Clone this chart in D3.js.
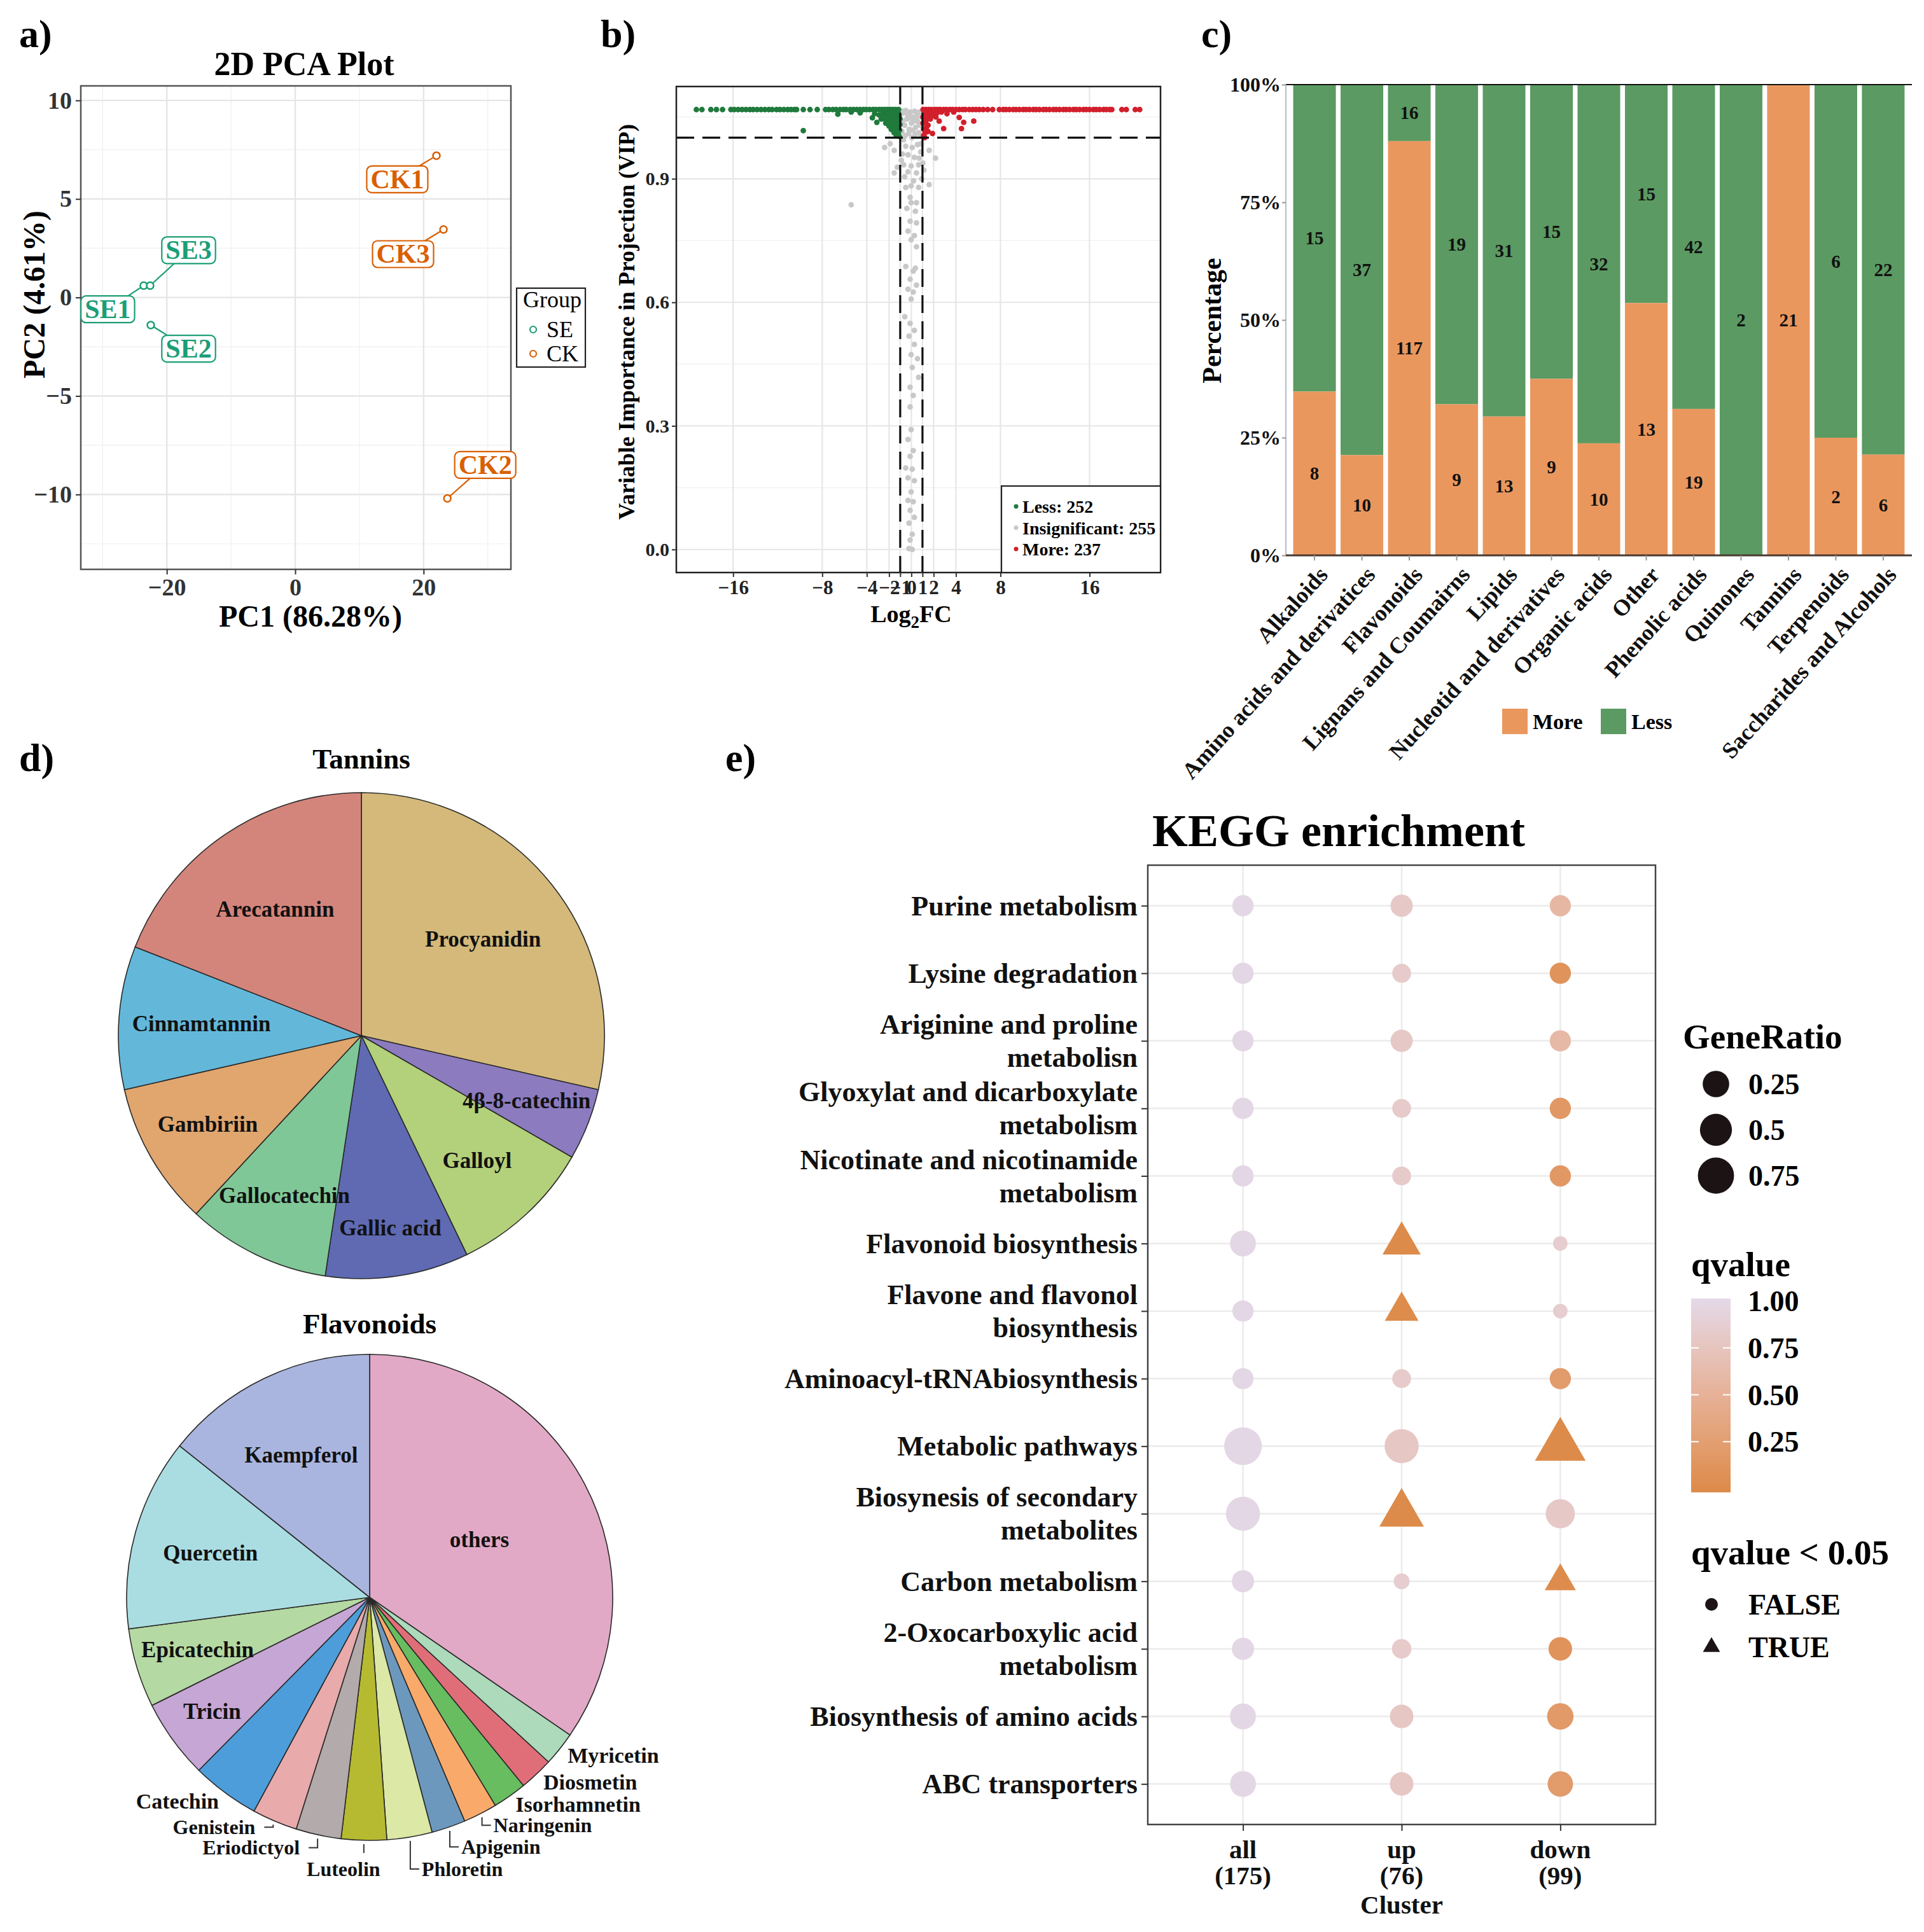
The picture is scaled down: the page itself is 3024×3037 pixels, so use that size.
<!DOCTYPE html>
<html>
<head>
<meta charset="utf-8">
<script src="https://cdn.jsdelivr.net/npm/d3@7"></script>
<style>
  body { margin: 0; background: #fff; }
</style>
</head>
<body>
<script>
// ---------- a) PCA data ----------
var pcaNames = ["SE1", "SE2", "SE3", "CK1", "CK2", "CK3"];
var pcaGroups = ["SE", "SE", "SE", "CK", "CK", "CK"];
var pc1Values = [-23.6, -22.5, -22.6, 22.0, 23.7, 23.1];
var pc2Values = [0.6, -1.4, 0.6, 7.2, -10.2, 3.45];
var groupNames = ["SE", "CK"];

// ---------- b) volcano data (log2FC, VIP) ----------
var lessTopX = [-19.3, -18.8, -18.0, -17.5, -16.95, -16.2, -15.9, -15.55, -15.2, -14.85, -14.5, -14.2, -13.85,
  -13.5, -13.15, -12.8, -12.5, -12.1, -11.8, -11.45, -11.1, -10.8, -10.5, -10.3, -9.7, -9.1, -8.45,
  -7.7, -7.4, -7.05, -6.75, -6.4, -6.1, -5.85, -5.5, -5.2, -4.9, -4.6, -4.3, -4.05, -3.75, -3.45,
  -3.2, -2.9, -2.65, -2.4, -2.15, -1.9, -1.65, -1.4, -1.15];
var lessTopVip = 1.068;
var lessLowPts = [[-9.7, 1.017], [-6.6, 1.057], [-5.4, 1.062], [-4.6, 1.06], [-3.5, 1.048], [-3.1, 1.037],
  [-3.3, 1.058], [-2.9, 1.055], [-2.7, 1.045], [-2.55, 1.06], [-2.45, 1.05], [-2.3, 1.035], [-2.2, 1.058],
  [-2.1, 1.042], [-2.0, 1.028], [-1.95, 1.05], [-1.85, 1.062], [-1.8, 1.02], [-1.75, 1.038], [-1.65, 1.048],
  [-1.6, 1.058], [-1.55, 1.012], [-1.5, 1.03], [-1.45, 1.042], [-1.4, 1.055], [-1.35, 1.005], [-1.3, 1.022],
  [-1.28, 1.036], [-1.25, 1.048], [-1.2, 1.062], [-1.18, 1.01], [-1.15, 1.028], [-1.12, 1.042], [-1.1, 1.054],
  [-1.08, 1.003], [-1.05, 1.018], [-1.03, 1.032], [-1.02, 1.046], [-1.6, 1.025], [-1.9, 1.035], [-2.35, 1.045],
  [-2.6, 1.052]];
var moreTopX = [1.05, 1.3, 1.55, 1.8, 2.1, 2.35, 2.6, 2.9, 3.15, 3.45, 3.7, 4.0, 4.3, 4.6, 4.85, 5.2, 5.5,
  5.8, 6.1, 6.45, 6.85, 7.3, 7.9, 8.25, 8.5, 8.8, 9.15, 9.4, 9.7, 10.05, 10.3, 10.6, 10.95, 11.2, 11.5,
  11.85, 12.1, 12.4, 12.75, 13.0, 13.3, 13.65, 13.9, 14.2, 14.55, 14.8, 15.1, 15.45, 15.7, 16.0, 16.35,
  16.6, 16.9, 17.25, 17.5, 17.8, 18.0, 18.9, 19.3, 20.1, 20.5];
var moreTopVip = 1.068;
var moreLowPts = [[2.5, 1.04], [2.9, 1.022], [4.3, 1.049], [4.7, 1.037], [4.5, 1.022], [5.6, 1.04], [1.9, 1.01],
  [1.5, 1.03], [1.2, 1.0], [1.1, 1.02], [1.3, 1.04], [1.15, 1.055], [1.4, 1.05], [1.6, 1.06], [1.25, 1.012],
  [1.05, 1.035], [1.7, 1.045], [2.0, 1.058], [2.3, 1.06], [2.7, 1.062], [3.2, 1.058], [1.35, 1.025],
  [1.1, 1.005], [1.5, 1.015], [3.8, 1.062], [1.8, 1.052], [1.05, 1.05], [1.2, 1.062], [2.2, 1.05], [1.45, 1.062]];
var insigPts = [[-0.9, 1.065], [-0.7, 1.06], [-0.5, 1.066], [-0.3, 1.055], [-0.1, 1.062], [0.1, 1.05], [0.3, 1.064],
  [0.5, 1.058], [0.7, 1.062], [0.9, 1.05], [-0.8, 1.04], [-0.6, 1.03], [-0.4, 1.045], [-0.2, 1.02], [0.0, 1.035],
  [0.2, 1.04], [0.4, 1.025], [0.6, 1.038], [0.8, 1.03], [-0.85, 1.015], [-0.55, 1.005], [-0.25, 1.01], [0.05, 1.0],
  [0.35, 1.008], [0.65, 1.012], [0.85, 1.005], [-0.7, 0.995], [0.15, 1.018], [-0.15, 1.048], [0.45, 1.048],
  [-2.4, 0.976], [-1.54, 0.969], [1.6, 0.969], [2.17, 0.95], [-0.5, 0.979], [0.08, 0.976], [0.55, 0.983],
  [-0.3, 0.958], [0.27, 0.952], [0.84, 0.965], [-0.69, 0.934], [-0.02, 0.931], [0.65, 0.934], [1.03, 0.938],
  [-1.26, 0.928], [-1.54, 0.914], [-0.3, 0.917], [0.46, 0.914], [1.12, 0.921], [1.6, 0.886], [-0.5, 0.879],
  [-0.02, 0.883], [0.65, 0.879], [0.93, 0.9], [-0.11, 0.855], [-0.02, 0.842], [0.46, 0.842], [-0.4, 0.828],
  [0.36, 0.821], [-0.11, 0.797], [0.46, 0.793], [-0.3, 0.773], [0.27, 0.762], [-0.02, 0.752], [0.46, 0.735],
  [-0.5, 0.687], [0.17, 0.676], [0.36, 0.683], [-0.11, 0.656], [0.46, 0.642], [-0.3, 0.632], [0.17, 0.625],
  [-0.02, 0.608], [-0.59, 0.565], [-0.11, 0.549], [0.27, 0.532], [-0.21, 0.518], [0.27, 0.498], [-0.02, 0.473],
  [0.55, 0.463], [0.08, 0.442], [0.65, 0.418], [-0.11, 0.394], [0.17, 0.374], [-0.11, 0.346], [-0.02, 0.291],
  [-0.3, 0.267], [0.17, 0.24], [-0.11, 0.226], [-0.5, 0.198], [0.08, 0.195], [-0.3, 0.174], [0.27, 0.167],
  [-0.02, 0.14], [-0.3, 0.119], [0.17, 0.116], [-0.11, 0.095], [0.27, 0.078], [-0.21, 0.064], [0.08, 0.037],
  [-0.11, 0.023], [-0.21, 0.002], [0.08, 0.0], [-5.4, 0.837], [-1.9, 0.985], [-0.8, 0.96], [0.7, 0.95],
  [-0.6, 0.905], [0.2, 0.895], [-0.9, 0.945], [0.85, 0.985]];
var volcanoTicks = [-16, -8, -4, -2, -1, 0, 1, 2, 4, 8, 16];
var vipTicks = [0, 0.3, 0.6, 0.9];
var volcanoLegend = ["Less: 252", "Insignificant: 255", "More: 237"];

// ---------- c) class percentages ----------
var classNames = ["Alkaloids", "Amino acids and derivatices", "Flavonoids", "Lignans and Coumairns", "Lipids",
  "Nucleotid and derivatives", "Organic acids", "Other", "Phenolic acids", "Quinones", "Tannins",
  "Terpenoids", "Saccharides and Alcohols"];
var moreCounts = [8, 10, 117, 9, 13, 9, 10, 13, 19, 0, 21, 2, 6];
var lessCounts = [15, 37, 16, 19, 31, 15, 32, 15, 42, 2, 0, 6, 22];
var morePercent = [34.8, 21.3, 88.0, 32.1, 29.5, 37.5, 23.8, 53.6, 31.1, 0, 100, 25, 21.4];
var percentTicks = [0, 25, 50, 75, 100];

// ---------- d) pies ----------
var tanninNames = ["Procyanidin", "4β-8-catechin", "Galloyl", "Gallic acid", "Gallocatechin", "Gambiriin",
  "Cinnamtannin", "Arecatannin"];
var tanninCounts = [6, 1, 2, 2, 2, 2, 2, 4];
var flavonoidNames = ["others", "Myricetin", "Diosmetin", "Isorhamnetin", "Naringenin", "Apigenin", "Phloretin",
  "Luteolin", "Eriodictyol", "Genistein", "Catechin", "Tricin", "Epicatechin", "Quercetin", "Kaempferol"];
var flavonoidCounts = [46, 3, 3, 3, 3, 3, 4, 4, 4, 4, 6, 7, 7, 17, 19];

// ---------- e) KEGG ----------
var pathways = ["Purine metabolism", "Lysine degradation", "Ariginine and proline\nmetabolisn",
  "Glyoxylat and dicarboxylate\nmetabolism", "Nicotinate and nicotinamide\nmetabolism", "Flavonoid biosynthesis",
  "Flavone and flavonol\nbiosynthesis", "Aminoacyl-tRNAbiosynthesis", "Metabolic pathways",
  "Biosynesis of secondary\nmetabolites", "Carbon metabolism", "2-Oxocarboxylic acid\nmetabolism",
  "Biosynthesis of amino acids", "ABC transporters"];
var clusters = ["all", "up", "down"];
var clusterSizes = [175, 76, 99];
// columns: all, up, down
var geneRatio = [[0.09, 0.114, 0.09], [0.09, 0.043, 0.09], [0.09, 0.114, 0.09], [0.09, 0.043, 0.09],
  [0.09, 0.043, 0.09], [0.228, 0.324, 0.002], [0.09, 0.197, 0.002], [0.09, 0.043, 0.09], [0.85, 0.62, 0.85],
  [0.62, 0.56, 0.364], [0.114, 0.009, 0.138], [0.114, 0.054, 0.149], [0.228, 0.149, 0.247], [0.228, 0.149, 0.21]];
var qValue = [[0.98, 0.8, 0.58], [0.98, 0.82, 0.12], [0.98, 0.8, 0.6], [0.98, 0.82, 0.18], [0.98, 0.82, 0.18],
  [0.98, 0.01, 0.85], [0.98, 0.02, 0.85], [0.98, 0.82, 0.22], [0.98, 0.78, 0.01], [0.98, 0.01, 0.8],
  [0.98, 0.85, 0.03], [0.98, 0.82, 0.12], [0.98, 0.78, 0.2], [0.98, 0.78, 0.22]];
var ratioLegend = [0.25, 0.5, 0.75];
var qTicks = [1.0, 0.75, 0.5, 0.25];

// ================= drawing =================
var FONT = '"Liberation Serif", "Times New Roman", Times, serif';
var svg = d3.select("body").append("svg")
  .attr("width", 3024).attr("height", 3037)
  .style("font-family", FONT).style("font-weight", "bold");

function txt(g, x, y, s, size, anchor) {
  return g.append("text").attr("x", x).attr("y", y)
    .attr("font-size", size).attr("text-anchor", anchor || "start")
    .attr("fill", "#000").text(s);
}
function fixAxis(g, size, color) {
  g.attr("font-family", FONT).attr("font-size", size).attr("font-weight", "bold");
  g.select(".domain").remove();
  g.selectAll(".tick line").attr("stroke", "#333").attr("stroke-width", 2);
  g.selectAll(".tick text").attr("fill", color);
}

// panel letters
[["a)", 30, 74], ["b)", 944, 74], ["c)", 1888, 74], ["d)", 30, 1212], ["e)", 1140, 1212]].forEach(function (l) {
  txt(svg, l[1], l[2], l[0], 62);
});

// ---------- a) ----------
var colA = { SE: "#1b9e77", CK: "#d95f02" };
var ax = d3.scaleLinear().domain([-33.4, 33.6]).range([127, 803]);
var ay = d3.scaleLinear().domain([-13.8, 10.74]).range([895, 135]);
var pa = svg.append("g");
pa.selectAll(".gminx").data([-30, -10, 10, 30]).join("line")
  .attr("x1", d => ax(d)).attr("x2", d => ax(d)).attr("y1", ay.range()[0]).attr("y2", ay.range()[1])
  .attr("stroke", "#f0f0f0").attr("stroke-width", 1.2);
pa.selectAll(".gminy").data([-12.5, -7.5, -2.5, 2.5, 7.5]).join("line")
  .attr("y1", d => ay(d)).attr("y2", d => ay(d)).attr("x1", ax.range()[0]).attr("x2", ax.range()[1])
  .attr("stroke", "#f0f0f0").attr("stroke-width", 1.2);
pa.selectAll(".gx").data([-20, 0, 20]).join("line")
  .attr("x1", d => ax(d)).attr("x2", d => ax(d)).attr("y1", ay.range()[0]).attr("y2", ay.range()[1])
  .attr("stroke", "#e6e6e6").attr("stroke-width", 2.4);
pa.selectAll(".gy").data([-10, -5, 0, 5, 10]).join("line")
  .attr("y1", d => ay(d)).attr("y2", d => ay(d)).attr("x1", ax.range()[0]).attr("x2", ax.range()[1])
  .attr("stroke", "#e6e6e6").attr("stroke-width", 2.4);
pa.append("rect").attr("x", 127).attr("y", 135).attr("width", 676).attr("height", 760)
  .attr("fill", "none").attr("stroke", "#555").attr("stroke-width", 2.5);
fixAxis(pa.append("g").attr("transform", "translate(0,895)")
  .call(d3.axisBottom(ax).tickValues([-20, 0, 20]).tickSize(8).tickPadding(6)), 38, "#333");
fixAxis(pa.append("g").attr("transform", "translate(127,0)")
  .call(d3.axisLeft(ay).tickValues([-10, -5, 0, 5, 10]).tickSize(8).tickPadding(6)), 38, "#333");
txt(pa, 478, 118, "2D PCA Plot", 52, "middle");
txt(pa, 488, 985, "PC1 (86.28%)", 48, "middle");
pa.append("text").attr("transform", "translate(70,463) rotate(-90)").attr("text-anchor", "middle")
  .attr("font-size", 48).text("PC2 (4.61%)");

// labels nudged like ggrepel (data units)
var pcaNudge = { SE1: [-5.6, -1.2], SE2: [5.9, -1.2], SE3: [6.0, 1.8], CK1: [-6.1, -1.2], CK2: [5.9, 1.7], CK3: [-6.3, -1.25] };
pcaNames.forEach(function (nm, i) {
  var c = colA[pcaGroups[i]];
  var px = ax(pc1Values[i]), py = ay(pc2Values[i]);
  var lx = ax(pc1Values[i] + pcaNudge[nm][0]), ly = ay(pc2Values[i] + pcaNudge[nm][1]);
  var lg = pa.append("g");
  var t = lg.append("text").attr("x", lx).attr("y", ly + 14).attr("text-anchor", "middle")
    .attr("font-size", 42).attr("fill", c).text(nm);
  var w = t.node().getComputedTextLength() + 12, h = 42;
  lg.insert("rect", "text").attr("x", lx - w / 2).attr("y", ly - h / 2).attr("width", w).attr("height", h)
    .attr("rx", 8).attr("fill", "#fff").attr("stroke", c).attr("stroke-width", 2.2);
  var dx = px - lx, dy = py - ly;
  var s = Math.min((w / 2) / Math.abs(dx || 1e-6), (h / 2) / Math.abs(dy || 1e-6));
  pa.append("line").attr("x1", px).attr("y1", py).attr("x2", lx + dx * s).attr("y2", ly + dy * s)
    .attr("stroke", c).attr("stroke-width", 2.2);
  pa.append("circle").attr("cx", px).attr("cy", py).attr("r", 5.5)
    .attr("fill", "#fff").attr("stroke", c).attr("stroke-width", 2.5);
});
// group legend
pa.append("rect").attr("x", 812).attr("y", 453).attr("width", 108).attr("height", 124)
  .attr("fill", "#fff").attr("stroke", "#222").attr("stroke-width", 2.2);
txt(pa, 822, 483, "Group", 36).attr("font-weight", "normal");
groupNames.forEach(function (g, i) {
  var y = 518 + i * 38;
  pa.append("circle").attr("cx", 838).attr("cy", y).attr("r", 5).attr("fill", "none")
    .attr("stroke", colA[g]).attr("stroke-width", 2.2);
  txt(pa, 859, y + 12, g, 36).attr("font-weight", "normal");
});

// ---------- b) ----------
var bx = d3.scaleLinear().domain([-21.1, 22.37]).range([1063, 1824]);
var by = d3.scaleLinear().domain([-0.056, 1.124]).range([900, 136]);
var pb = svg.append("g");
pb.selectAll(".gminy").data([0.15, 0.45, 0.75, 1.05]).join("line")
  .attr("y1", d => by(d)).attr("y2", d => by(d)).attr("x1", 1063).attr("x2", 1824)
  .attr("stroke", "#f0f0f0").attr("stroke-width", 1.2);
pb.selectAll(".gy").data(vipTicks).join("line")
  .attr("y1", d => by(d)).attr("y2", d => by(d)).attr("x1", 1063).attr("x2", 1824)
  .attr("stroke", "#e6e6e6").attr("stroke-width", 2.2);
pb.selectAll(".gx").data(volcanoTicks).join("line")
  .attr("x1", d => bx(d)).attr("x2", d => bx(d)).attr("y1", 136).attr("y2", 900)
  .attr("stroke", "#e6e6e6").attr("stroke-width", 2.2);
function dots(pts, color) {
  pb.append("g").selectAll("circle").data(pts).join("circle")
    .attr("cx", d => bx(d[0])).attr("cy", d => by(d[1])).attr("r", 4.4).attr("fill", color);
}
dots(insigPts, "#c8c8c8");
dots(lessTopX.map(x => [x, lessTopVip]).concat(lessLowPts), "#1f7a3c");
dots(moreTopX.map(x => [x, moreTopVip]).concat(moreLowPts), "#d21f2c");
[-1, 1].forEach(function (v) {
  pb.append("line").attr("x1", bx(v)).attr("x2", bx(v)).attr("y1", 136).attr("y2", 900)
    .attr("stroke", "#111").attr("stroke-width", 3.2).attr("stroke-dasharray", "28,13");
});
pb.append("line").attr("x1", 1063).attr("x2", 1824).attr("y1", by(1)).attr("y2", by(1))
  .attr("stroke", "#111").attr("stroke-width", 3.2).attr("stroke-dasharray", "28,13");
pb.append("rect").attr("x", 1063).attr("y", 136).attr("width", 761).attr("height", 764)
  .attr("fill", "none").attr("stroke", "#222").attr("stroke-width", 2.5);
fixAxis(pb.append("g").attr("transform", "translate(0,900)")
  .call(d3.axisBottom(bx).tickValues(volcanoTicks).tickSize(7).tickPadding(5)), 31, "#222");
fixAxis(pb.append("g").attr("transform", "translate(1063,0)")
  .call(d3.axisLeft(by).tickValues(vipTicks).tickFormat(d3.format(".1f")).tickSize(7).tickPadding(4)), 30, "#222");
var lt = pb.append("text").attr("x", 1432).attr("y", 978).attr("text-anchor", "middle").attr("font-size", 38);
lt.append("tspan").text("Log");
lt.append("tspan").attr("font-size", 27).attr("dy", 9).text("2");
lt.append("tspan").attr("dy", -9).text("FC");
pb.append("text").attr("transform", "translate(997,506) rotate(-90)").attr("text-anchor", "middle")
  .attr("font-size", 36).text("Variable Importance in Projection (VIP)");
pb.append("rect").attr("x", 1574).attr("y", 764).attr("width", 250).attr("height", 136)
  .attr("fill", "#fff").attr("stroke", "#222").attr("stroke-width", 2.2);
var legCol = ["#1f7a3c", "#c8c8c8", "#d21f2c"];
volcanoLegend.forEach(function (s, i) {
  var y = 796 + i * 33.5;
  pb.append("circle").attr("cx", 1597).attr("cy", y).attr("r", 3.5).attr("fill", legCol[i]);
  txt(pb, 1607, y + 10, s, 28);
});

// ---------- c) ----------
var colMore = "#ea975e", colLess = "#5b9a62";
var cx = d3.scaleBand().domain(classNames).range([2021, 3005]).paddingInner(0.1).paddingOuter(0.155);
var cy = d3.scaleLinear().domain([0, 100]).range([873, 133]);
var pc = svg.append("g");
pc.selectAll(".less").data(classNames).join("rect")
  .attr("x", d => cx(d)).attr("width", cx.bandwidth())
  .attr("y", cy(100)).attr("height", (d, i) => cy(morePercent[i]) - cy(100)).attr("fill", colLess);
pc.selectAll(".more").data(classNames).join("rect")
  .attr("x", d => cx(d)).attr("width", cx.bandwidth())
  .attr("y", (d, i) => cy(morePercent[i])).attr("height", (d, i) => cy(0) - cy(morePercent[i])).attr("fill", colMore);
classNames.forEach(function (d, i) {
  var xm = cx(d) + cx.bandwidth() / 2;
  if (lessCounts[i] > 0) txt(pc, xm, cy((morePercent[i] + 100) / 2) + 10, lessCounts[i], 29, "middle").attr("fill", "#111");
  if (moreCounts[i] > 0) txt(pc, xm, cy(morePercent[i] / 2) + 10, moreCounts[i], 29, "middle").attr("fill", "#111");
});
pc.append("line").attr("x1", 2021).attr("x2", 3005).attr("y1", cy(100)).attr("y2", cy(100))
  .attr("stroke", "#111").attr("stroke-width", 2);
pc.append("line").attr("x1", 2021).attr("x2", 2021).attr("y1", cy(100)).attr("y2", cy(0))
  .attr("stroke", "#b8bccb").attr("stroke-width", 2);
pc.append("line").attr("x1", 2021).attr("x2", 3005).attr("y1", cy(0)).attr("y2", cy(0))
  .attr("stroke", "#4a3a30").attr("stroke-width", 3);
var cyAxis = pc.append("g").attr("transform", "translate(2021,0)")
  .call(d3.axisLeft(cy).tickValues(percentTicks).tickFormat(d => d + "%").tickSize(6).tickPadding(2));
fixAxis(cyAxis, 32, "#111");
cyAxis.selectAll(".tick line").attr("stroke", "#999");
var cxAxis = pc.append("g").attr("transform", "translate(0,873)")
  .call(d3.axisBottom(cx).tickSize(8).tickFormat(""));
fixAxis(cxAxis, 32, "#111");
cxAxis.selectAll(".tick line").attr("stroke", "#999");
classNames.forEach(function (d) {
  pc.append("text").attr("transform", "translate(" + (cx(d) + cx.bandwidth() / 2 + 4) + ",888) rotate(-48)")
    .attr("text-anchor", "end").attr("dy", "0.7em").attr("font-size", 36).attr("fill", "#111").text(d);
});
pc.append("text").attr("transform", "translate(1919,504) rotate(-90)").attr("text-anchor", "middle")
  .attr("font-size", 42).text("Percentage");
pc.append("rect").attr("x", 2361).attr("y", 1114).attr("width", 40).attr("height", 40).attr("fill", colMore);
txt(pc, 2409, 1146, "More", 34);
pc.append("rect").attr("x", 2516).attr("y", 1114).attr("width", 40).attr("height", 40).attr("fill", colLess);
txt(pc, 2564, 1146, "Less", 34);

// ---------- d) ----------
var tanninColors = ["#d4b97a", "#8c7bbf", "#b3d07a", "#5f6ab3", "#80c797", "#e0a66e", "#63b8da", "#d4857b"];
var flavColors = ["#e2a9c6", "#acdabb", "#e06e79", "#67bd5f", "#f9aa6b", "#6c98bd", "#dbe8a6", "#b6ba30",
  "#b2aaab", "#e9aaab", "#4d9ddb", "#c6a6d4", "#b5d9a2", "#aadde2", "#aab5df"];
// how far out (fraction of radius) each inside label sits
var labelRadius = { "Procyanidin": 0.64, "4β-8-catechin": 0.73, "Galloyl": 0.7, "Gallic acid": 0.8,
  "Gallocatechin": 0.73, "Gambiriin": 0.73, "Cinnamtannin": 0.66, "Arecatannin": 0.63,
  "others": 0.51, "Tricin": 0.8, "Epicatechin": 0.74, "Quercetin": 0.68, "Kaempferol": 0.65 };
var R = 382;
var pie = d3.pie().sort(null).value(d => d);
var arc = d3.arc().innerRadius(0).outerRadius(R);

function drawPie(cxp, cyp, counts, colors, title, titleY) {
  var g = svg.append("g").attr("transform", "translate(" + cxp + "," + cyp + ")");
  var arcs = pie(counts);
  g.selectAll("path").data(arcs).join("path").attr("d", arc)
    .attr("fill", (d, i) => colors[i]).attr("stroke", "#2a2a2a").attr("stroke-width", 1.6);
  txt(svg, cxp, titleY, title, 45, "middle");
  return { g: g, arcs: arcs };
}
function innerLabel(g, d, name) {
  var f = labelRadius[name];
  var c = d3.arc().innerRadius(R * f).outerRadius(R * f).centroid(d);
  txt(g, c[0], c[1] + 12, name, 35, "middle").attr("fill", "#111");
}
var tp = drawPie(568, 1628, tanninCounts, tanninColors, "Tannins", 1208);
tp.arcs.forEach(function (d, i) { innerLabel(tp.g, d, tanninNames[i]); });

var fp = drawPie(581, 2511, flavonoidCounts, flavColors, "Flavonoids", 2096);
fp.arcs.forEach(function (d, i) {
  var a = (d.startAngle + d.endAngle) / 2;
  if (flavonoidCounts[i] > 6) { innerLabel(fp.g, d, flavonoidNames[i]); return; }
  var deg = a * 180 / Math.PI, off = Math.abs(deg - 180), side = deg < 180 ? 1 : -1;
  if (off > 30) {
    txt(fp.g, (R + 16) * Math.sin(a), -(R + 16) * Math.cos(a) + 12, flavonoidNames[i], 34, side > 0 ? "start" : "end")
      .attr("fill", "#111");
    return;
  }
  // crowded bottom slices: elbow leader like ggrepel
  var sx = (R + 6) * Math.sin(a), sy = -(R + 6) * Math.cos(a);
  var near = 1 - off / 30;
  var drop = side > 0 ? 10 + 56 * Math.pow(near, 1.3) : Math.max(4, 34 * near - 6);
  if (off < 5) {
    fp.g.append("path").attr("d", "M" + sx + "," + sy + "V" + (sy + 14))
      .attr("fill", "none").attr("stroke", "#333").attr("stroke-width", 2);
    txt(fp.g, sx - 32, sy + 50, flavonoidNames[i], 32, "middle").attr("fill", "#111");
  } else {
    fp.g.append("path").attr("d", "M" + sx + "," + sy + "V" + (sy + drop) + "H" + (sx + side * 14))
      .attr("fill", "none").attr("stroke", "#333").attr("stroke-width", 2);
    txt(fp.g, sx + side * (side > 0 ? 18 : 28), sy + drop + 11, flavonoidNames[i], 32, side > 0 ? "start" : "end")
      .attr("fill", "#111");
  }
});

// ---------- e) ----------
var ex = d3.scalePoint().domain(clusters).range([1804, 2602]).padding(0.6);
var ey = d3.scalePoint().domain(pathways).range([1360, 2868]).padding(0.6);
var qColor = d3.scaleLinear().domain([0, 1]).range(["#dd8a48", "#e4d9e8"]).interpolate(d3.interpolateLab);
var ratioNorm = d3.scaleLinear().domain([0, 0.85]).range([0, 1]).clamp(true);
var rad = d3.scaleLinear().domain([0, 1]).range([10.5, 29.6]);
function radius(v) { return rad(Math.sqrt(ratioNorm(v))); }
var pe = svg.append("g");
txt(pe, 2104, 1330, "KEGG enrichment", 72, "middle");
pe.selectAll(".gy").data(pathways).join("line")
  .attr("y1", d => ey(d)).attr("y2", d => ey(d)).attr("x1", 1804).attr("x2", 2602)
  .attr("stroke", "#ebebeb").attr("stroke-width", 2.5);
pe.selectAll(".gx").data(clusters).join("line")
  .attr("x1", d => ex(d)).attr("x2", d => ex(d)).attr("y1", 1360).attr("y2", 2868)
  .attr("stroke", "#ebebeb").attr("stroke-width", 2.5);
pathways.forEach(function (p, r) {
  clusters.forEach(function (c, k) {
    var v = geneRatio[r][k], q = qValue[r][k], rr = radius(v);
    if (q < 0.05) {
      pe.append("path").attr("transform", "translate(" + ex(c) + "," + ey(p) + ")")
        .attr("d", d3.symbol(d3.symbolTriangle, Math.PI * rr * rr)()).attr("fill", qColor(q));
    } else {
      pe.append("circle").attr("cx", ex(c)).attr("cy", ey(p)).attr("r", rr).attr("fill", qColor(q));
    }
  });
});
pe.append("rect").attr("x", 1804).attr("y", 1360).attr("width", 798).attr("height", 1508)
  .attr("fill", "none").attr("stroke", "#444").attr("stroke-width", 2.5);
var eyAxis = pe.append("g").attr("transform", "translate(1804,0)")
  .call(d3.axisLeft(ey).tickSize(10).tickFormat(""));
fixAxis(eyAxis, 44, "#111");
pathways.forEach(function (p) {
  var lines = p.split("\n");
  lines.forEach(function (s, k) {
    txt(pe, 1788, ey(p) + (k - (lines.length - 1) / 2) * 52 + 15, s, 44, "end").attr("fill", "#111");
  });
});
var exAxis = pe.append("g").attr("transform", "translate(0,2868)")
  .call(d3.axisBottom(ex).tickSize(10).tickFormat(""));
fixAxis(exAxis, 41, "#111");
clusters.forEach(function (c, k) {
  txt(pe, ex(c), 2921, c, 41, "middle").attr("fill", "#111");
  txt(pe, ex(c), 2962, "(" + clusterSizes[k] + ")", 41, "middle").attr("fill", "#111");
});
txt(pe, ex("up"), 3008, "Cluster", 41, "middle").attr("fill", "#111");

// legends
txt(pe, 2645, 1648, "GeneRatio", 55);
ratioLegend.forEach(function (v, i) {
  var y = 1704 + i * 72;
  pe.append("circle").attr("cx", 2697).attr("cy", y).attr("r", radius(v)).attr("fill", "#1c1414");
  txt(pe, 2748, y + 16, v, 46);
});
txt(pe, 2658, 2006, "qvalue", 55);
var grad = svg.append("defs").append("linearGradient").attr("id", "qgrad")
  .attr("x1", 0).attr("y1", 0).attr("x2", 0).attr("y2", 1);
d3.range(0, 1.01, 0.1).forEach(function (t) {
  grad.append("stop").attr("offset", t).attr("stop-color", qColor(1 - t));
});
var qbar = d3.scaleLinear().domain([0, 1]).range([2340, 2045]);
pe.append("rect").attr("x", 2658).attr("y", qbar(1.013)).attr("width", 62).attr("height", qbar(-0.02) - qbar(1.013))
  .attr("fill", "url(#qgrad)");
qTicks.forEach(function (t) {
  if (t < 1) {
    pe.append("line").attr("x1", 2658).attr("x2", 2670).attr("y1", qbar(t)).attr("y2", qbar(t)).attr("stroke", "#fff").attr("stroke-width", 2);
    pe.append("line").attr("x1", 2708).attr("x2", 2720).attr("y1", qbar(t)).attr("y2", qbar(t)).attr("stroke", "#fff").attr("stroke-width", 2);
  }
  txt(pe, 2747, qbar(t) + 16, d3.format(".2f")(t), 46);
});
txt(pe, 2658, 2459, "qvalue < 0.05", 55);
pe.append("circle").attr("cx", 2690).attr("cy", 2522).attr("r", 10).attr("fill", "#1c1414");
txt(pe, 2748, 2538, "FALSE", 46);
pe.append("path").attr("transform", "translate(2690,2589)")
  .attr("d", d3.symbol(d3.symbolTriangle, Math.PI * 100)()).attr("fill", "#1c1414");
txt(pe, 2748, 2605, "TRUE", 46);
</script>
</body>
</html>
